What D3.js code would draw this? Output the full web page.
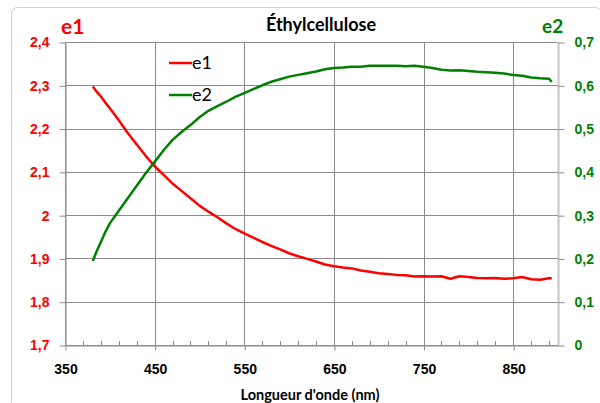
<!DOCTYPE html>
<html>
<head>
<meta charset="utf-8">
<script src="https://cdn.jsdelivr.net/npm/d3@7"></script>
<style>
  body { margin: 0; background: #fff; }
  svg { font-family: "Lato", "Open Sans", sans-serif; }
</style>
</head>
<body>
<div id="chart"></div>
<script>
// wavelength (nm), e1 (left axis), e2 (right axis)
const wavelengths = [381, 385, 390, 395, 400, 410, 420, 430, 440, 450, 460, 470, 480, 490, 500,
  510, 520, 530, 540, 550, 560, 570, 580, 590, 600, 610, 620, 630, 640, 650, 660, 670, 680, 690,
  700, 710, 720, 730, 740, 750, 760, 770, 780, 790, 800, 810, 820, 830, 840, 850, 860, 870, 880,
  890, 893]
const e1Values = [2.297, 2.286, 2.274, 2.260, 2.247, 2.219, 2.190, 2.163, 2.137, 2.113, 2.093, 2.073,
  2.056, 2.039, 2.022, 2.008, 1.995, 1.981, 1.968, 1.958, 1.948, 1.938, 1.929, 1.921, 1.912, 1.905,
  1.899, 1.893, 1.886, 1.882, 1.879, 1.877, 1.872, 1.869, 1.866, 1.864, 1.862, 1.861, 1.858, 1.859,
  1.858, 1.859, 1.853, 1.859, 1.857, 1.855, 1.854, 1.855, 1.853, 1.854, 1.857, 1.852, 1.851, 1.854, 1.854]
const e2Values = [0.194, 0.215, 0.238, 0.261, 0.281, 0.310, 0.339, 0.368, 0.397, 0.423, 0.450, 0.474,
  0.492, 0.508, 0.526, 0.541, 0.552, 0.562, 0.573, 0.582, 0.591, 0.600, 0.608, 0.614, 0.620, 0.624,
  0.628, 0.632, 0.637, 0.640, 0.641, 0.643, 0.643, 0.645, 0.645, 0.645, 0.645, 0.644, 0.645, 0.643,
  0.640, 0.636, 0.634, 0.635, 0.633, 0.631, 0.630, 0.629, 0.627, 0.624, 0.622, 0.618, 0.616, 0.615, 0.608]

const xTicks = [350, 450, 550, 650, 750, 850]
const xMinorTicks = d3.range(370, 900, 20)
const e1Ticks = [1.7, 1.8, 1.9, 2.0, 2.1, 2.2, 2.3, 2.4]
const e2Ticks = [0, 0.1, 0.2, 0.3, 0.4, 0.5, 0.6, 0.7]

const width = 600
const height = 403
const margin = { top: 42, bottom: 58, left: 65, right: 42 }

const red = "#ff0000"
const green = "#008000"
const gridColor = "#8c8c8c"

const svg = d3.select("#chart").append("svg")
  .attr("width", width)
  .attr("height", height)

// outer chart frame
svg.append("rect")
  .attr("x", 11.5).attr("y", 7.5)
  .attr("width", 590).attr("height", 400)
  .attr("rx", 6)
  .attr("fill", "#fff")
  .attr("stroke", "#d0d0d0")

// SCALES
const xScale = d3.scaleLinear()
  .domain([350, 900])
  .range([margin.left, width - margin.right])

const yLeft = d3.scaleLinear()
  .domain([1.7, 2.4])
  .range([height - margin.bottom, margin.top])

const yRight = d3.scaleLinear()
  .domain([0, 0.7])
  .range([height - margin.bottom, margin.top])

// GRID
svg.append("g")
  .selectAll("line")
  .data(e1Ticks)
  .join("line")
    .attr("x1", margin.left).attr("x2", width - margin.right)
    .attr("y1", d => Math.round(yLeft(d)) + 0.5)
    .attr("y2", d => Math.round(yLeft(d)) + 0.5)
    .attr("stroke", gridColor)

svg.append("g")
  .selectAll("line")
  .data(xTicks)
  .join("line")
    .attr("x1", d => Math.round(xScale(d)) + 0.5)
    .attr("x2", d => Math.round(xScale(d)) + 0.5)
    .attr("y1", margin.top).attr("y2", height - margin.bottom)
    .attr("stroke", gridColor)

// right border of plot
svg.append("line")
  .attr("x1", Math.round(xScale(900)) + 0.5).attr("x2", Math.round(xScale(900)) + 0.5)
  .attr("y1", margin.top).attr("y2", height - margin.bottom)
  .attr("stroke", "#c4c4c4").attr("stroke-width", 2)

// AXES
const xAxis = d3.axisBottom(xScale)
  .tickValues(xTicks)
  .tickSize(5)
  .tickSizeOuter(0)
  .tickFormat(d3.format("d"))

const xAxisGroup = svg.append("g")
  .attr("transform", `translate(0.5, ${Math.round(yLeft(1.7)) + 0.5})`)
  .call(xAxis)
xAxisGroup.select(".domain").attr("stroke", gridColor)
xAxisGroup.selectAll(".tick line").attr("stroke", gridColor)
xAxisGroup.selectAll(".tick text")
  .attr("dy", "1.45em")
  .style("font-size", "14px").style("font-weight", "bold").attr("fill", "#000")

// minor x ticks pointing up
svg.append("g")
  .selectAll("line")
  .data(xMinorTicks)
  .join("line")
    .attr("x1", d => Math.round(xScale(d)) + 0.5)
    .attr("x2", d => Math.round(xScale(d)) + 0.5)
    .attr("y1", Math.round(yLeft(1.7)))
    .attr("y2", Math.round(yLeft(1.7)) - 4)
    .attr("stroke", gridColor)

const leftAxis = d3.axisLeft(yLeft)
  .tickValues(e1Ticks)
  .tickSize(6)
  .tickSizeOuter(0)
  .tickFormat(d => d3.format(".1f")(d).replace(".0", "").replace(".", ","))

const leftGroup = svg.append("g")
  .attr("transform", `translate(${margin.left + 0.5}, 0.5)`)
  .call(leftAxis)
leftGroup.select(".domain").attr("stroke", gridColor)
leftGroup.selectAll(".tick line").attr("stroke", gridColor)
leftGroup.selectAll(".tick text")
  .attr("x", -16)
  .style("font-size", "14px").style("font-weight", "bold").attr("fill", red)

const rightAxis = d3.axisRight(yRight)
  .tickValues(e2Ticks)
  .tickSize(6)
  .tickSizeOuter(0)
  .tickFormat(d => d === 0 ? "0" : d3.format(".1f")(d).replace(".", ","))

const rightGroup = svg.append("g")
  .attr("transform", `translate(${Math.round(xScale(900)) + 0.5}, 0.5)`)
  .call(rightAxis)
rightGroup.select(".domain").remove()
rightGroup.selectAll(".tick line").attr("stroke", gridColor)
rightGroup.selectAll(".tick text")
  .attr("x", 16)
  .style("font-size", "14px").style("font-weight", "bold").attr("fill", green)

// LINES
const series = [
  { name: "e1", color: red, y: yLeft, values: e1Values },
  { name: "e2", color: green, y: yRight, values: e2Values }
]

series.forEach(s => {
  const line = d3.line()
    .x((d, i) => xScale(wavelengths[i]))
    .y(d => s.y(d))
  svg.append("path")
    .attr("d", line(s.values))
    .attr("fill", "none")
    .attr("stroke", s.color)
    .attr("stroke-width", 2.5)
    .attr("stroke-linejoin", "round")
})

// LEGEND
const legend = svg.append("g")
  .selectAll("g")
  .data(series)
  .join("g")
    .attr("transform", (d, i) => `translate(169, ${63 + i * 32})`)
legend.append("line")
  .attr("x1", 0).attr("x2", 23)
  .attr("stroke", d => d.color).attr("stroke-width", 2.5)
legend.append("text")
  .attr("x", 23).attr("y", 6)
  .style("font-size", "18px")
  .text(d => d.name)

// TITLES
svg.append("text")
  .attr("x", 321).attr("y", 31)
  .attr("text-anchor", "middle")
  .style("font-size", "18px").style("font-weight", "bold")
  .text("Éthylcellulose")

svg.append("text")
  .attr("x", 61).attr("y", 34)
  .style("font-size", "21px").style("font-weight", "bold")
  .attr("fill", red)
  .text("e1")

svg.append("text")
  .attr("x", 542).attr("y", 33)
  .style("font-size", "19px").style("font-weight", "bold")
  .attr("fill", green)
  .text("e2")

svg.append("text")
  .attr("x", 310).attr("y", 400)
  .attr("text-anchor", "middle")
  .style("font-size", "14.5px").style("font-weight", "bold")
  .text("Longueur d'onde (nm)")
</script>
</body>
</html>
